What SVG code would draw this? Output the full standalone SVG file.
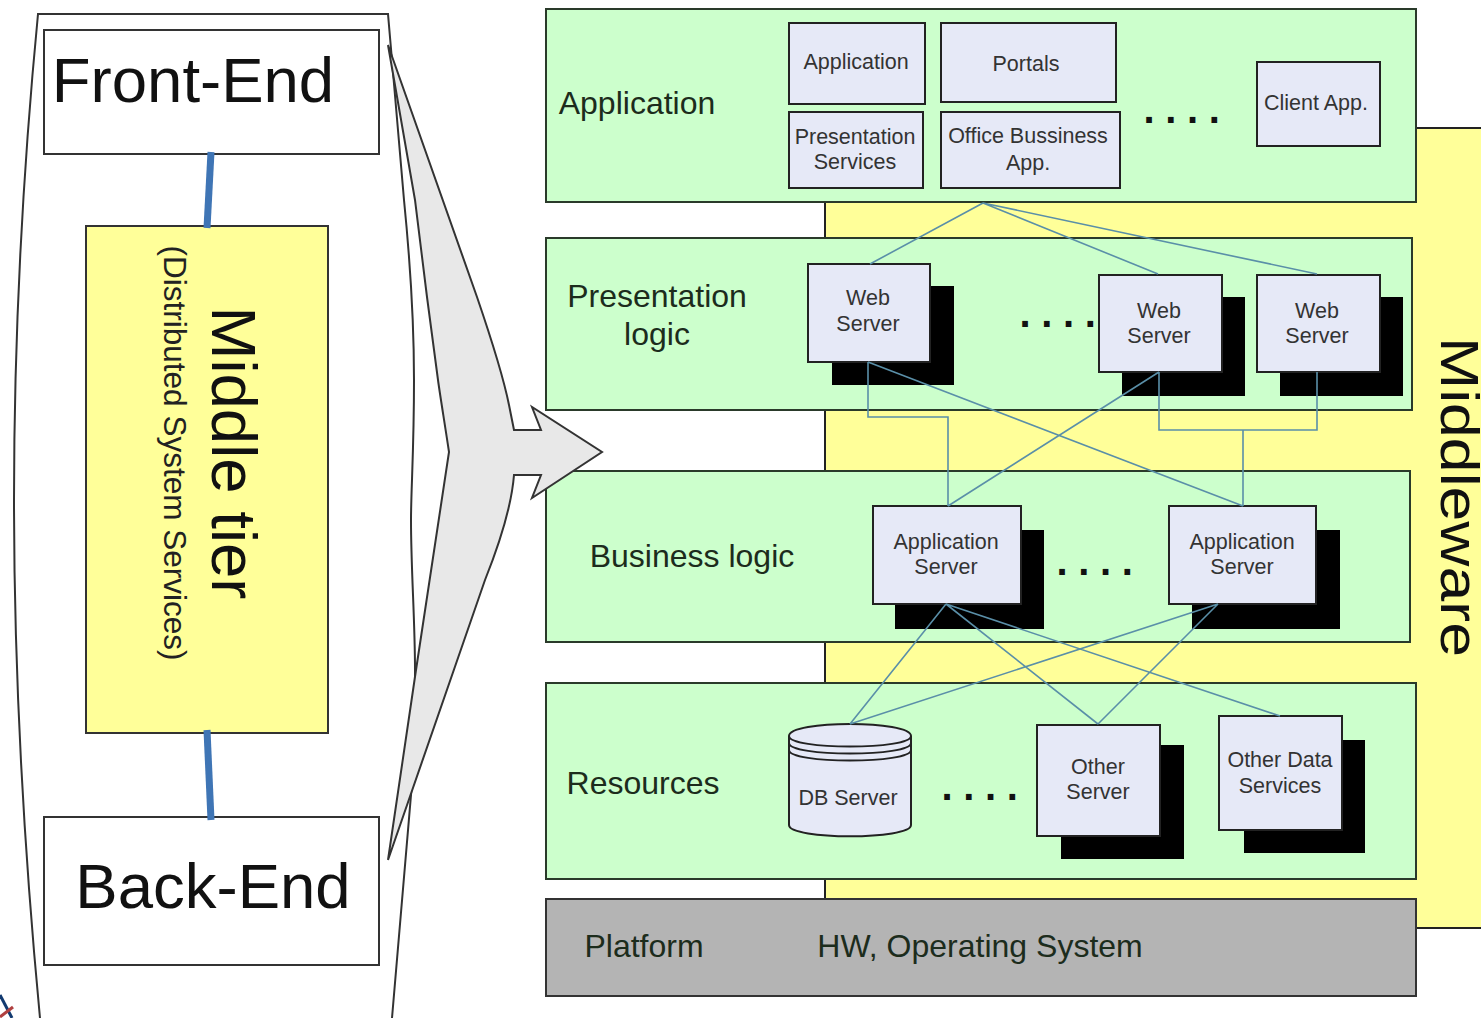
<svg xmlns="http://www.w3.org/2000/svg" width="1481" height="1018" viewBox="0 0 1481 1018">
<style>
text{font-family:"Liberation Sans",Arial,sans-serif;fill:#222;text-anchor:middle}
.p{fill:#ccffcc;stroke:#2a3a2a;stroke-width:2}
.n{fill:#e6e9f7;stroke:#222;stroke-width:2}
.s{fill:#000}
.w{fill:#fff;stroke:#333;stroke-width:2}
.big{font-size:63.5px;fill:#111}
.lab{font-size:32px;fill:#1c2c1c}
.sm{font-size:21.5px;fill:#333}
.dots{font-size:40px;font-weight:bold;letter-spacing:10.6px;text-anchor:start;fill:#111}
.c{fill:none;stroke:#5a8fa8;stroke-width:1.6}
.t{fill:none;stroke:#3f75b5;stroke-width:7}
</style>
<rect width="1481" height="1018" fill="#fff"/>
<g id="corner-fragment" fill="none" stroke-width="3"><path d="M0 995L12 1018" stroke="#123a70"/><path d="M0 1017L13 1007" stroke="#b04040"/></g>
<path id="outline" d="M40 1018C24 850 14 680 14 500C14 340 22 180 38 14H388L404 200C410 260 414 330 414 380C414 450 411 490 411 520C411 570 415 620 415 670C415 710 414 760 411 795L392 1018" fill="#fff" stroke="#333" stroke-width="2"/>
<g id="middleware"><path d="M825 928V128H1483V928Z" fill="#ffff99" stroke="#222" stroke-width="2"/><text transform="translate(1441,497) rotate(90)" font-size="54.5" textLength="320" lengthAdjust="spacingAndGlyphs" style="fill:#111">Middleware</text></g>
<g id="front-end"><rect class="w" x="44" y="30" width="335" height="124"/><text class="big" x="193" y="102">Front-End</text></g>
<g id="back-end"><rect class="w" x="44" y="817" width="335" height="148"/><text class="big" x="213" y="908">Back-End</text></g>
<g id="middle-tier"><rect x="86" y="226" width="242" height="507" fill="#ffff99" stroke="#333" stroke-width="2"/><text transform="translate(212,453) rotate(90)" font-size="63.5" style="fill:#111">Middle tier</text><text transform="translate(164,453) rotate(90)" font-size="31.5">(Distributed System Services)</text></g>
<g id="tier-links"><path class="t" d="M211 152L207 228"/><path class="t" d="M207 730L211 820"/></g>
<g id="application"><rect class="p" x="546" y="9" width="870" height="193"/><text class="lab" x="637" y="114">Application</text></g>
<g id="presentation"><rect class="p" x="546" y="238" width="866" height="172"/><text class="lab" x="657" y="307">Presentation</text><text class="lab" x="657" y="345">logic</text></g>
<g id="business"><rect class="p" x="546" y="471" width="864" height="171"/><text class="lab" x="692" y="567">Business logic</text></g>
<g id="resources"><rect class="p" x="546" y="683" width="870" height="196"/><text class="lab" x="643" y="794">Resources</text></g>
<g id="platform"><rect x="546" y="899" width="870" height="97" fill="#b4b4b4" stroke="#333" stroke-width="2"/><text class="lab" x="644" y="957">Platform</text><text class="lab" x="980" y="957">HW, Operating System</text></g>
<path id="callout" d="M388 45L477 297C490 335 503 375 509 405L514 430H541L532 407L602 452L532 498L541 475H514C512 500 505 530 485 580L388 860L416 670L449 452C445 425 440 395 438 380L427 297L415 200Z" fill="#e8e8e8" stroke="#333" stroke-width="2"/>
<g id="app-1"><rect class="n" x="789" y="23" width="136" height="81"/><text class="sm" x="856" y="69">Application</text></g>
<g id="portals"><rect class="n" x="941" y="23" width="175" height="79"/><text class="sm" x="1026" y="71">Portals</text></g>
<g id="pres-services"><rect class="n" x="789" y="112" width="134" height="76"/><text class="sm" x="855" y="144">Presentation</text><text class="sm" x="855" y="169">Services</text></g>
<g id="office"><rect class="n" x="941" y="112" width="179" height="76"/><text class="sm" x="1028" y="143">Office Bussiness</text><text class="sm" x="1028" y="170">App.</text></g>
<g id="client"><rect class="n" x="1257" y="62" width="123" height="84"/><text class="sm" x="1316" y="110">Client App.</text></g>
<g id="web-1"><rect class="s" x="832" y="286" width="122" height="99"/><rect class="n" x="808" y="264" width="122" height="98"/><text class="sm" x="868" y="305">Web</text><text class="sm" x="868" y="331">Server</text></g>
<g id="web-2"><rect class="s" x="1122" y="297" width="123" height="99"/><rect class="n" x="1099" y="275" width="123" height="97"/><text class="sm" x="1159" y="318">Web</text><text class="sm" x="1159" y="343">Server</text></g>
<g id="web-3"><rect class="s" x="1280" y="297" width="123" height="99"/><rect class="n" x="1257" y="275" width="123" height="97"/><text class="sm" x="1317" y="318">Web</text><text class="sm" x="1317" y="343">Server</text></g>
<g id="as-1"><rect class="s" x="895" y="530" width="149" height="99"/><rect class="n" x="873" y="506" width="148" height="98"/><text class="sm" x="946" y="549">Application</text><text class="sm" x="946" y="574">Server</text></g>
<g id="as-2"><rect class="s" x="1192" y="530" width="148" height="99"/><rect class="n" x="1169" y="506" width="147" height="98"/><text class="sm" x="1242" y="549">Application</text><text class="sm" x="1242" y="574">Server</text></g>
<g id="db"><path class="n" d="M789 736C789 720 911 720 911 736V825C911 840 789 840 789 825Z"/><path d="M789 736C789 750 911 750 911 736M789 743C789 757 911 757 911 743M789 750C789 764 911 764 911 750" fill="none" stroke="#222" stroke-width="2"/><text class="sm" x="848" y="805">DB Server</text></g>
<g id="other-server"><rect class="s" x="1061" y="745" width="123" height="114"/><rect class="n" x="1037" y="725" width="123" height="111"/><text class="sm" x="1098" y="774">Other</text><text class="sm" x="1098" y="799">Server</text></g>
<g id="other-data"><rect class="s" x="1244" y="740" width="121" height="113"/><rect class="n" x="1219" y="716" width="123" height="114"/><text class="sm" x="1280" y="767">Other Data</text><text class="sm" x="1280" y="793">Services</text></g>
<g id="ellipses"><text class="dots" x="1143.5" y="122.5">....</text><text class="dots" x="1019.5" y="326.5">....</text><text class="dots" x="1056.5" y="574.5">....</text><text class="dots" x="941.5" y="799.5">....</text></g>
<g id="connectors">
<path class="c" d="M983 203L870 264M983 203L1158 274M983 203L1317 274"/>
<path class="c" d="M868 362V417H948V506M868 362L1243 506M1159 372L948 506M1159 372V430H1243V506M1317 372V430H1159"/>
<path class="c" d="M946 604L850 724M946 604L1098 724M946 604L1280 716M1218 604L850 724M1218 604L1098 724"/>
</g>
</svg>
